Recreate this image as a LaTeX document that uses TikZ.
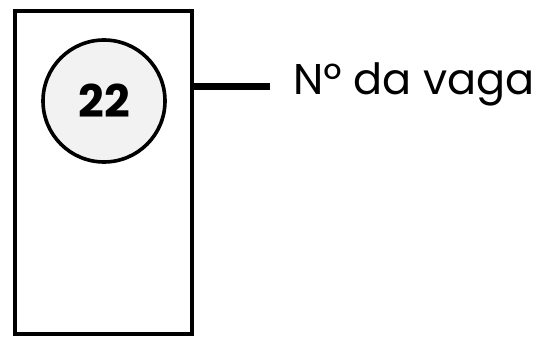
\documentclass[tikz,border=0pt]{standalone}
\usepackage{fontspec}
\setmainfont{Poppins}
\definecolor{circfill}{HTML}{F2F2F2}
\begin{document}
\begin{tikzpicture}[x=1pt,y=-1pt,
  slot/.style={draw=black,line width=4.5pt},
  numcirc/.style={circle,draw=black,fill=circfill,line width=3.6pt,minimum size=122pt,inner sep=0pt,font=\fontsize{45}{45}\selectfont\bfseries},
  lead/.style={draw=black,line width=7pt},
  lbl/.style={anchor=base west,inner sep=0pt,font=\fontsize{43}{43}\selectfont}]
\useasboundingbox (0,0) rectangle (538,337);
\node[slot,rectangle,minimum width=177pt,minimum height=323pt,inner sep=0pt] (box) at (103.5,172.5) {};
\node[numcirc] (num) at (104,101) {22};
\coordinate (lend) at (270,86);
\draw[lead] (box.east |- lend) -- (lend);
\node[lbl] (label) at (293,94) {Nº da vaga};
\end{tikzpicture}
\end{document}
